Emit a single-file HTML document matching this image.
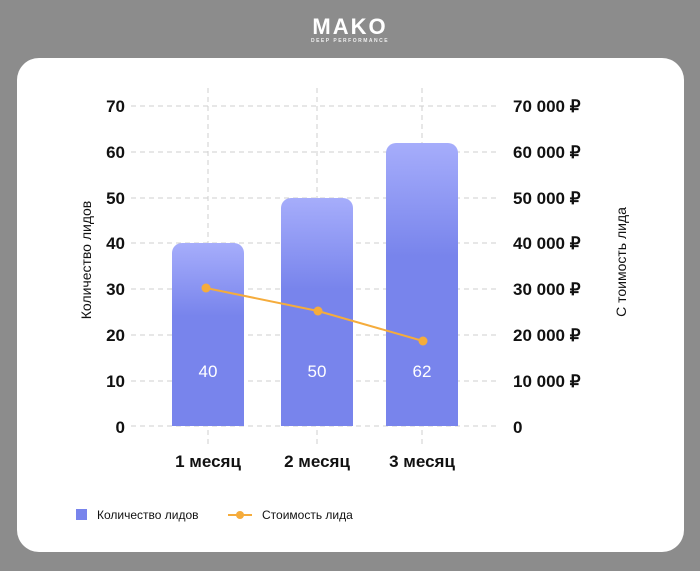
<!DOCTYPE html>
<html><head><meta charset="utf-8"><style>
body{margin:0;width:700px;height:571px;background:#8c8c8c;overflow:hidden;font-family:"Liberation Sans",sans-serif}
</style></head><body>
<svg width="700" height="571" xmlns="http://www.w3.org/2000/svg" style="position:absolute;left:0;top:0">
<defs>
<linearGradient id="g" x1="0" y1="0" x2="0" y2="1" gradientUnits="objectBoundingBox">
<stop offset="0" stop-color="#a6adfb"/><stop offset="0.4" stop-color="#7884ec"/><stop offset="1" stop-color="#7884ec"/></linearGradient>
</defs>
<rect width="700" height="571" fill="#8c8c8c"/>
<text x="350" y="34" text-anchor="middle" font-size="22" font-weight="bold" fill="#fff" letter-spacing="2">MAKO</text>
<text x="350" y="42" text-anchor="middle" font-size="5" font-weight="bold" fill="#eee" letter-spacing="1.5">DEEP PERFORMANCE</text>
<rect x="17" y="58" width="667" height="494" rx="22" fill="#fff"/>
<g stroke="#cfcfcf" stroke-dasharray="5,4" stroke-width="1">
<line x1="131" x2="500" y1="106" y2="106"/><line x1="131" x2="500" y1="152" y2="152"/>
<line x1="131" x2="500" y1="198" y2="198"/><line x1="131" x2="500" y1="243" y2="243"/>
<line x1="131" x2="500" y1="289" y2="289"/><line x1="131" x2="500" y1="335" y2="335"/>
<line x1="131" x2="500" y1="381" y2="381"/><line x1="131" x2="500" y1="426" y2="426"/>
<line x1="208" x2="208" y1="88" y2="446"/><line x1="317" x2="317" y1="88" y2="446"/><line x1="422" x2="422" y1="88" y2="446"/>
</g>
<path d="M172,426V253a10,10 0 0 1 10,-10h52a10,10 0 0 1 10,10V426Z" fill="url(#g)"/>
<path d="M281,426V208a10,10 0 0 1 10,-10h52a10,10 0 0 1 10,10V426Z" fill="url(#g)"/>
<path d="M386,426V153a10,10 0 0 1 10,-10h52a10,10 0 0 1 10,10V426Z" fill="url(#g)"/>
<polyline points="206,288 318,311 423,341" fill="none" stroke="#f5ac3c" stroke-width="2"/>
<g fill="#f5ac3c"><circle cx="206" cy="288" r="4.5"/><circle cx="318" cy="311" r="4.5"/><circle cx="423" cy="341" r="4.5"/></g>
<g fill="#fff" font-size="17" text-anchor="middle"><text x="208" y="377">40</text><text x="317" y="377">50</text><text x="422" y="377">62</text></g>
<g font-size="17" font-weight="bold" fill="#111" text-anchor="end">
<text x="125" y="112">70</text><text x="125" y="158">60</text><text x="125" y="204">50</text><text x="125" y="249">40</text>
<text x="125" y="295">30</text><text x="125" y="341">20</text><text x="125" y="387">10</text><text x="125" y="433">0</text></g>
<g font-size="17" font-weight="bold" fill="#111">
<text x="513" y="112">70 000 ₽</text><text x="513" y="158">60 000 ₽</text><text x="513" y="204">50 000 ₽</text><text x="513" y="249">40 000 ₽</text>
<text x="513" y="295">30 000 ₽</text><text x="513" y="341">20 000 ₽</text><text x="513" y="387">10 000 ₽</text><text x="513" y="433">0</text></g>
<g font-size="17" font-weight="bold" fill="#111" text-anchor="middle">
<text x="208" y="467">1 месяц</text><text x="317" y="467">2 месяц</text><text x="422" y="467">3 месяц</text></g>
<text transform="translate(91,260) rotate(-90)" text-anchor="middle" font-size="14" fill="#111">Количество лидов</text>
<text transform="translate(626,262) rotate(-90)" text-anchor="middle" font-size="14" fill="#111">С тоимость лида</text>
<rect x="76" y="509" width="11" height="11" fill="#7884ec"/>
<text x="97" y="519" font-size="12" fill="#111">Количество лидов</text>
<line x1="228" x2="252" y1="515" y2="515" stroke="#f5ac3c" stroke-width="2"/><circle cx="240" cy="515" r="4" fill="#f5ac3c"/>
<text x="262" y="519" font-size="12" fill="#111">Стоимость лида</text>
</svg>
</body></html>
